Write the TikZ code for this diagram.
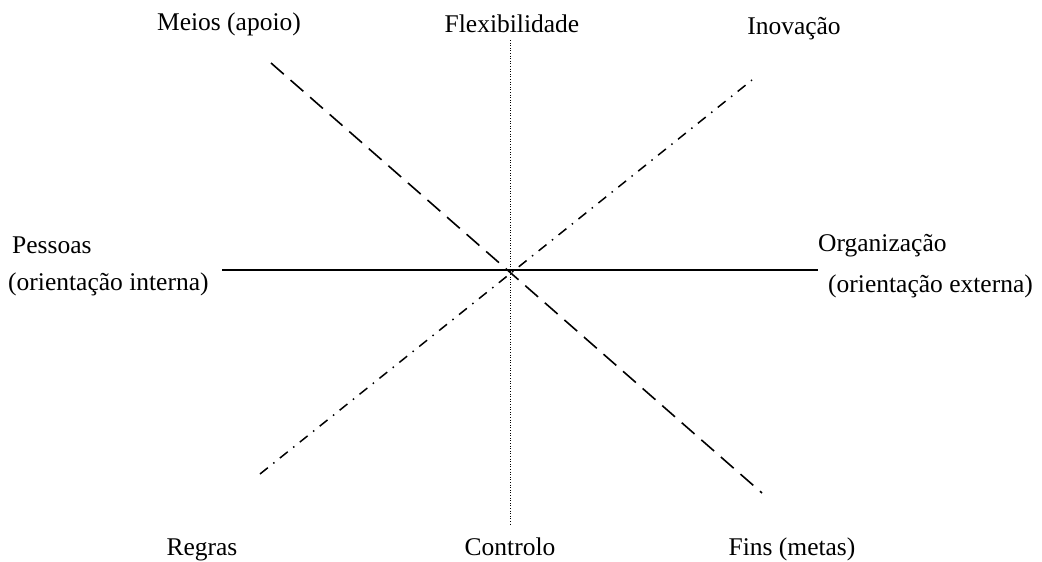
\documentclass[tikz,border=0pt]{standalone}
\usepackage{fontspec}
\setmainfont{Liberation Serif}
\begin{document}
\begin{tikzpicture}[x=1pt,y=-1pt,
  lbl/.style={inner sep=0pt,font=\fontsize{25.5}{30}\selectfont},
  solidaxis/.style={line width=1.4pt},
  dottedaxis/.style={line width=1pt,dash pattern=on 1pt off 1.6pt},
  dashedaxis/.style={line width=1.6pt,dash pattern=on 17pt off 9pt},
  dashdotaxis/.style={line width=1.5pt,dash pattern=on 10pt off 7pt on 1.5pt off 7pt}]
\useasboundingbox (0,0) rectangle (1042,562);
% axis end points
\coordinate (hl) at (222,270);
\coordinate (hr) at (818,270);
\coordinate (vt) at (510,40);
\coordinate (vb) at (510,524);
\coordinate (dtl) at (271,63);
\coordinate (dbr) at (762,493);
\coordinate (ddbl) at (260,474);
\coordinate (ddtr) at (752,80);
% axes
\draw[solidaxis] (hl) -- (hr);
\draw[dottedaxis] (vt) -- (vb);
\draw[dashedaxis] (dtl) -- (dbr);
\draw[dashdotaxis] (ddbl) -- (ddtr);
% labels
\node[lbl] (meios) at (229,24) {Meios (apoio)};
\node[lbl] (flex) at (512,24) {Flexibilidade};
\node[lbl] (inov) at (794,29) {Inovação};
\node[lbl,anchor=west] (pessoas) at (12,245) {Pessoas};
\node[lbl,anchor=west] (interna) at (8,284) {(orientação interna)};
\node[lbl,anchor=west] (org) at (818,246) {Organização};
\node[lbl,anchor=west] (externa) at (828,286) {(orientação externa)};
\node[lbl,anchor=base] (regras) at (202,555) {Regras};
\node[lbl,anchor=base] (controlo) at (510,555) {Controlo};
\node[lbl,anchor=base] (fins) at (792,555) {Fins (metas)};
\end{tikzpicture}
\end{document}
